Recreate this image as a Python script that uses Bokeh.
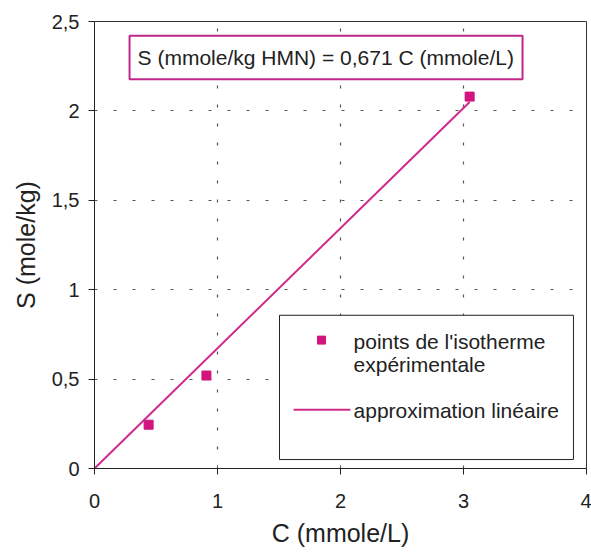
from bokeh.plotting import figure
from bokeh.models import Range1d, FixedTicker
from bokeh.core.properties import value
from bokeh.embed import file_html
from bokeh.resources import INLINE

# ---- data ----
conc = [0.44, 0.91, 3.05]          # C (mmole/L)
sorb = [0.245, 0.52, 2.08]         # S (mole/kg)
fit_x = [0.0, 3.05]
fit_y = [0.0, 2.05]                # S = 0.671 C
x_ticks = [0, 1, 2, 3, 4]
x_tick_labels = ["0", "1", "2", "3", "4"]
y_ticks = [0, 0.5, 1, 1.5, 2, 2.5]
y_tick_labels = ["0", "0,5", "1", "1,5", "2", "2,5"]
equation = "S (mmole/kg HMN) = 0,671 C (mmole/L)"
legend_points = ["points de l'isotherme", "expérimentale"]
legend_line = "approximation linéaire"
x_title = "C (mmole/L)"
y_title = "S (mole/kg)"

MAG = "#d1147e"
LINE = "#cf2a8c"
FONT = "Liberation Sans"

p = figure(width=591, height=555, output_backend="svg", toolbar_location=None,
           x_range=Range1d(0, 4), y_range=Range1d(0, 2.5),
           min_border_left=94, min_border_right=5, min_border_top=21, min_border_bottom=87)
p.background_fill_color = "white"
p.border_fill_color = "white"
p.outline_line_color = "#333333"
p.outline_line_width = 1

for ax, ticks, labels in ((p.xaxis[0], x_ticks, x_tick_labels), (p.yaxis[0], y_ticks, y_tick_labels)):
    ax.ticker = FixedTicker(ticks=ticks)
    ax.major_label_overrides = {t: l for t, l in zip(ticks, labels)}
    ax.minor_tick_line_color = None
    ax.major_tick_in = 0
    ax.major_tick_out = 6
    ax.axis_line_color = "#222222"
    ax.major_tick_line_color = "#222222"
    ax.major_label_text_font = FONT
    ax.major_label_text_font_size = "20px"
    ax.major_label_text_color = "#222222"
    ax.axis_label_text_font = FONT
    ax.axis_label_text_font_size = "25px"
    ax.axis_label_text_font_style = "normal"
    ax.axis_label_text_color = "#222222"

p.xaxis.axis_label = x_title
p.yaxis.axis_label = y_title
p.xaxis.major_label_standoff = 19
p.xaxis.axis_label_standoff = 8
p.yaxis.major_label_standoff = 9
p.yaxis.axis_label_standoff = 9

for g in (p.xgrid[0], p.ygrid[0]):
    g.grid_line_color = "#555555"
    g.grid_line_dash = "3 16"
    g.grid_line_width = 1.2

# fit line and points
p.line(fit_x, fit_y, line_color=LINE, line_width=2)
p.scatter(conc, sorb, marker="square", size=9, fill_color=MAG, line_color=MAG)

# equation box
p.quad(left=[0.285], right=[3.48], bottom=[2.177], top=[2.42],
       fill_color="white", line_color="#c0268a", line_width=2)
p.text(x=[1.88], y=[2.298], text=[equation], text_font=value(FONT),
       text_font_size="21px", text_align="center", text_baseline="middle", text_color="#222222")

# legend box
p.quad(left=[1.504], right=[3.894], bottom=[0.05], top=[0.857],
       fill_color="white", line_color="#222222", line_width=1)
p.scatter([1.846], [0.718], marker="square", size=8, fill_color=MAG, line_color=MAG)
p.text(x=[2.106, 2.106], y=[0.713, 0.579], text=legend_points, text_font=value(FONT),
       text_font_size="21px", text_align="left", text_baseline="middle", text_color="#222222")
p.line([1.618, 2.08], [0.328, 0.328], line_color=LINE, line_width=2)
p.text(x=[2.106], y=[0.323], text=[legend_line], text_font=value(FONT),
       text_font_size="21px", text_align="left", text_baseline="middle", text_color="#222222")

open("out.html", "w").write(file_html(p, INLINE))
